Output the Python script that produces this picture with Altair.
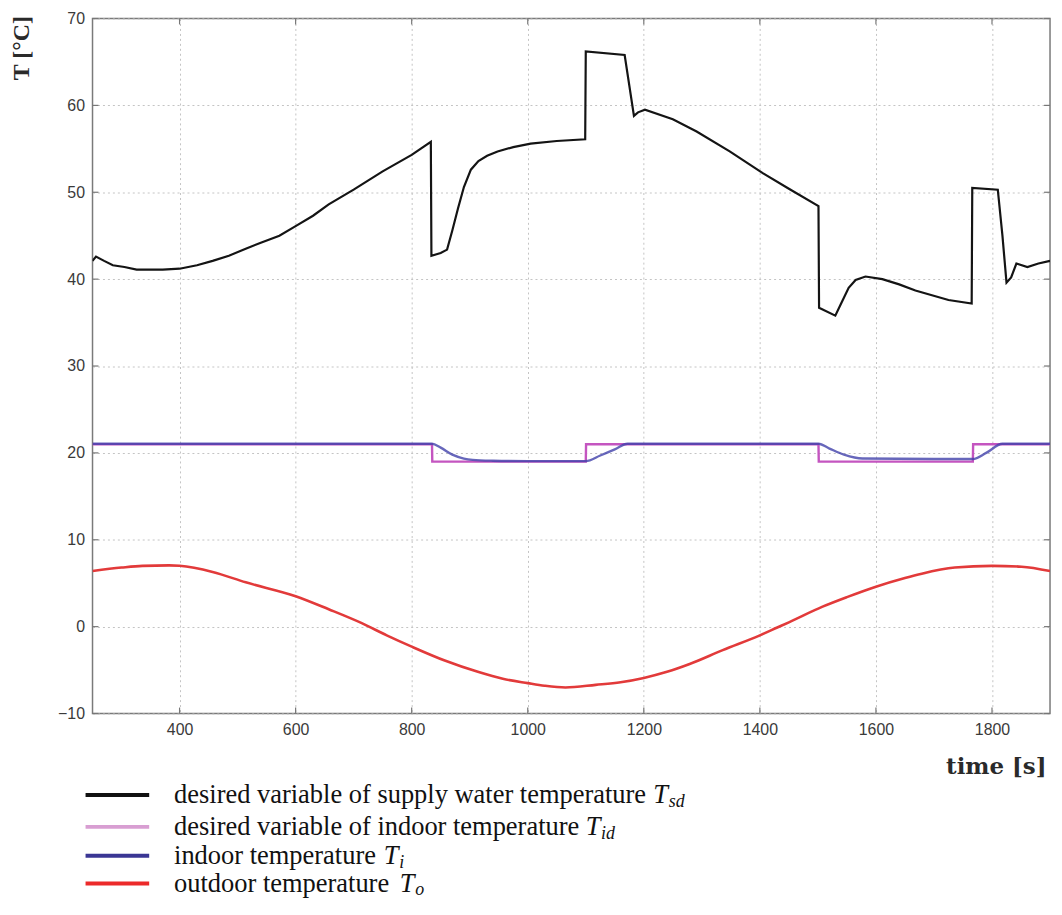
import altair as alt
import pandas as pd

# ---------------- data ----------------
tsd_t = [250, 256, 270, 285, 305, 326, 350, 371, 400, 430, 457, 485, 514, 540, 572, 600, 630, 657,
         700, 750, 800, 833, 834, 850, 861, 870, 880, 890, 902, 915, 930, 948, 975, 1005, 1050, 1099, 1100,
         1167, 1183, 1190, 1202, 1250, 1291, 1348, 1405, 1450, 1501, 1502, 1530, 1540, 1553, 1565, 1582,
         1611, 1640, 1668, 1725, 1765, 1766, 1810, 1818, 1825, 1833, 1842, 1861, 1880, 1900]
tsd_v = [42.1, 42.6, 42.1, 41.6, 41.4, 41.1, 41.1, 41.1, 41.2, 41.6, 42.1, 42.7, 43.5, 44.2, 45.0, 46.1, 47.3, 48.6,
         50.3, 52.4, 54.3, 55.8, 42.7, 43.0, 43.4, 45.6, 48.2, 50.6, 52.6, 53.6, 54.2, 54.7, 55.2, 55.6, 55.9, 56.1,
         66.2, 65.8, 58.8, 59.2, 59.5, 58.4, 57.0, 54.7, 52.2, 50.4, 48.4, 36.7, 35.8, 37.2, 39.0, 39.9, 40.3,
         40.0, 39.4, 38.7, 37.6, 37.2, 50.5, 50.3, 45.0, 39.6, 40.2, 41.8, 41.4, 41.8, 42.1]

tid_t = [250, 835, 835.5, 1100, 1100.5, 1501, 1501.5, 1767, 1767.5, 1900]
tid_v = [21, 21, 19, 19, 21, 21, 19, 19, 21, 21]

ti_t = [250, 835, 850, 870, 890, 905, 940, 1000, 1100, 1125, 1150, 1172, 1501, 1520, 1545, 1577,
        1700, 1767, 1790, 1818, 1900]
ti_v = [21.05, 21.05, 20.6, 19.8, 19.35, 19.2, 19.1, 19.05, 19.05, 19.7, 20.4, 21.05, 21.05, 20.5, 19.8, 19.35,
        19.3, 19.3, 20.0, 21.05, 21.05]

to_t = [250, 300, 336, 382, 400, 457, 514, 600, 657, 714, 757, 800, 857, 914, 957, 1000, 1029, 1065,
        1117, 1160, 1200, 1240, 1279, 1336, 1400, 1430, 1450, 1508, 1550, 1600, 1650, 1679, 1736, 1800,
        1851, 1900]
to_v = [6.4, 6.8, 7.0, 7.05, 7.0, 6.3, 5.1, 3.5, 2.0, 0.4, -1.0, -2.3, -3.9, -5.2, -6.0, -6.5, -6.8, -7.0,
        -6.7, -6.4, -5.9, -5.2, -4.3, -2.7, -1.0, -0.1, 0.5, 2.3, 3.4, 4.6, 5.6, 6.1, 6.8, 7.0,
        6.9, 6.4]

x_ticks = [400, 600, 800, 1000, 1200, 1400, 1600, 1800]
y_ticks = [-10, 0, 10, 20, 30, 40, 50, 60, 70]

legend_main = ["desired variable of supply water temperature",
               "desired variable of indoor temperature",
               "indoor temperature",
               "outdoor temperature"]
legend_sub = ["sd", "id", "i", "o"]

# ---------------- layout / style constants ----------------
W, H = 963, 699
PLOT_COL = {"sd": "#141414", "id": "#c455c0", "i": "#4141aa", "o": "#e23a3a"}
LEG_COL = {"sd": "#111111", "id": "#d89ed2", "i": "#3a3694", "o": "#ec2a2a"}
LEG_Y = [781, 813, 842, 870]
LEG_TX = [564, 496, 293, 309]
LEG_FS = 26.6

xscale = alt.Scale(domain=[250, 1900], nice=False, zero=False)
yscale = alt.Scale(domain=[-10, 70], nice=False, zero=False)

xaxis = alt.Axis(values=x_ticks, format="d", title="time [s]", grid=True, ticks=False, domain=False,
                 labelFont="Liberation Sans", labelFontSize=16, labelColor="#3a3a3a", labelPadding=8,
                 titleFont="DejaVu Serif", titleFontSize=23, titleFontWeight="bold", titleColor="#2a2a2a",
                 titleAnchor="end", titleAlign="right", titleX=W - 4, titleY=60, titleBaseline="alphabetic")
yaxis = alt.Axis(values=y_ticks, format="d", title="T [°C]", grid=True, ticks=False, domain=False,
                 labelFont="Liberation Sans", labelFontSize=16, labelColor="#3a3a3a", labelPadding=8,
                 titleFont="Liberation Serif", titleFontSize=24, titleFontWeight="bold", titleColor="#2a2a2a",
                 titleAngle=270, titleAlign="right", titleBaseline="alphabetic", titleX=-64, titleY=-3)


def series(ts, vs):
    return pd.DataFrame({"t": ts, "T": vs, "i": list(range(len(ts)))})


def line(df, key, width, interp="linear", opacity=1.0):
    return alt.Chart(df).mark_line(color=PLOT_COL[key], strokeWidth=width, clip=True,
                                   interpolate=interp, opacity=opacity).encode(
        x=alt.X("t:Q", scale=xscale, axis=xaxis),
        y=alt.Y("T:Q", scale=yscale, axis=yaxis),
        order="i:Q",
    )


layers = [
    line(series(tid_t, tid_v), "id", 2.4),
    line(series(ti_t, ti_v), "i", 2.4, "monotone", 0.8),
    line(series(to_t, to_v), "o", 2.6, "monotone"),
    line(series(tsd_t, tsd_v), "sd", 2.2),
]

# inward ticks on all four sides (MATLAB box style)
xt = pd.DataFrame({"t": x_ticks})
yt = pd.DataFrame({"T": y_ticks})
tick_col = "#777777"
layers += [
    alt.Chart(xt).mark_rule(color=tick_col, strokeWidth=1.2).encode(
        x=alt.X("t:Q", scale=xscale, axis=xaxis), y=alt.value(H - 6), y2=alt.value(H)),
    alt.Chart(xt).mark_rule(color=tick_col, strokeWidth=1.2).encode(
        x=alt.X("t:Q", scale=xscale, axis=xaxis), y=alt.value(0), y2=alt.value(6)),
    alt.Chart(yt).mark_rule(color=tick_col, strokeWidth=1.2).encode(
        y=alt.Y("T:Q", scale=yscale, axis=yaxis), x=alt.value(0), x2=alt.value(6)),
    alt.Chart(yt).mark_rule(color=tick_col, strokeWidth=1.2).encode(
        y=alt.Y("T:Q", scale=yscale, axis=yaxis), x=alt.value(W - 6), x2=alt.value(W)),
]

# custom legend below the plot (subscripted, italic T)
one = pd.DataFrame({"k": [0]})
for idx, key in enumerate(legend_sub):
    yy = LEG_Y[idx]
    layers.append(alt.Chart(one).mark_rule(color=LEG_COL[key], strokeWidth=4).encode(
        x=alt.value(-7), x2=alt.value(57), y=alt.value(yy)))
    layers.append(alt.Chart(one).mark_text(
        text=legend_main[idx], font="Liberation Serif", fontSize=LEG_FS, align="left",
        baseline="middle", color="#111").encode(x=alt.value(82), y=alt.value(yy)))
    layers.append(alt.Chart(one).mark_text(
        text="T", font="Liberation Serif", fontSize=LEG_FS, fontStyle="italic", align="left",
        baseline="middle", color="#111").encode(x=alt.value(LEG_TX[idx]), y=alt.value(yy)))
    layers.append(alt.Chart(one).mark_text(
        text=key, font="Liberation Serif", fontSize=18, fontStyle="italic", align="left",
        baseline="middle", color="#111").encode(x=alt.value(LEG_TX[idx] + 15.5), y=alt.value(yy + 7)))

chart = alt.layer(*layers).properties(
    width=W, height=H,
    autosize=alt.AutoSizeParams(type="none"),
    padding={"left": 85, "top": 8, "right": 4, "bottom": 190},
).configure_view(
    stroke="#7a7a7a", strokeWidth=1.5
).configure_axis(
    gridColor="#c4c4c4", gridDash=[2, 3], gridWidth=1
)

chart.save("out.html", embed_options={"renderer": "svg", "actions": False})
